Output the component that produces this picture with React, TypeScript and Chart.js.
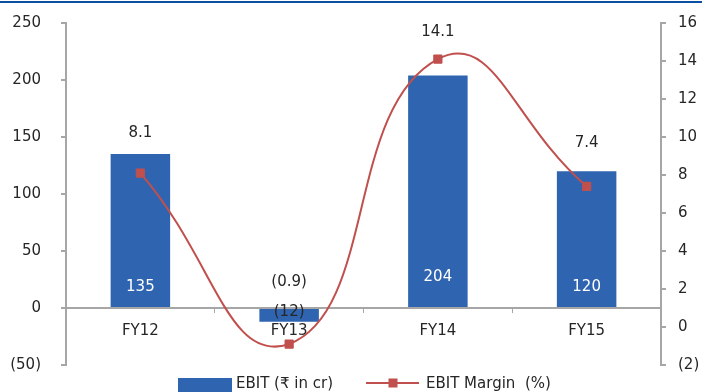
import React, { useEffect, useRef } from "react";
import { Chart, registerables } from "chart.js";

Chart.register(...registerables);

// Financial years on the category axis
const categories = ["FY12", "FY13", "FY14", "FY15"];
// EBIT in ₹ crore (bars, left axis)
const ebitValues = [135, -12, 204, 120];
// EBIT margin in percent (line, right axis)
const marginValues = [8.1, -0.9, 14.1, 7.4];
// Axis ranges
const leftRange = { min: -50, max: 250, step: 50 };
const rightRange = { min: -2, max: 16, step: 2 };

const barLabel = "EBIT (₹ in cr)";
const lineLabel = "EBIT Margin  (%)";

// label placement tweaks (pixels, relative to the zero line / marker)
const barLabelShift = [-21, 4, -31, -21];
const lineLabelShift = [-40, -62, -27, -43];

const FONT = "'DejaVu Sans', sans-serif";
const TEXT = "#262626";
const AXIS = "#a6a6a6";
const BLUE = "#2f64b0";
const RED = "#c0504d";

const fmt = (v: number) => (v < 0 ? `(${Math.abs(v)})` : `${v}`);

// value axes keep exact widths and no extra label padding, so the plot box is fixed
const fixAxis = (width: number) => (s: any) => {
  s.width = width;
  s.paddingTop = 0;
  s.paddingBottom = 0;
};

const decorPlugin = {
  id: "decor",
  beforeDraw(chart: any) {
    const { ctx, width } = chart;
    ctx.save();
    ctx.fillStyle = "#ffffff";
    ctx.fillRect(0, 0, width, chart.height);
    ctx.fillStyle = "#0b4ea2";
    ctx.fillRect(0, 1, width, 2);
    ctx.restore();
  },
  afterDatasetsDraw(chart: any) {
    const { ctx } = chart;
    const yScale = chart.scales.y;
    const zero = yScale.getPixelForValue(0);
    ctx.save();
    ctx.font = `15px ${FONT}`;
    ctx.textAlign = "center";
    ctx.textBaseline = "middle";
    const barMeta = chart.getDatasetMeta(0);
    barMeta.data.forEach((el: any, i: number) => {
      const v = ebitValues[i];
      ctx.fillStyle = v < 0 ? TEXT : "#ffffff";
      ctx.fillText(fmt(v), el.x, zero + barLabelShift[i]);
    });
    const lineMeta = chart.getDatasetMeta(1);
    lineMeta.data.forEach((el: any, i: number) => {
      ctx.fillStyle = TEXT;
      ctx.fillText(fmt(marginValues[i]), el.x, el.y + lineLabelShift[i]);
    });
    ctx.restore();
  },
  afterDraw(chart: any) {
    const { ctx } = chart;
    ctx.save();
    ctx.font = `15px ${FONT}`;
    ctx.textAlign = "left";
    ctx.textBaseline = "alphabetic";
    // bar legend entry
    ctx.fillStyle = BLUE;
    ctx.fillRect(178, 378, 54, 16);
    ctx.fillStyle = TEXT;
    ctx.fillText(barLabel, 236, 388);
    // line legend entry
    ctx.strokeStyle = RED;
    ctx.lineWidth = 2;
    ctx.beginPath();
    ctx.moveTo(366, 383);
    ctx.lineTo(419, 383);
    ctx.stroke();
    ctx.fillStyle = RED;
    ctx.fillRect(388.5, 378.5, 9, 9);
    ctx.fillStyle = TEXT;
    ctx.fillText(lineLabel, 426, 388);
    ctx.restore();
  },
};

export default function App() {
  const canvasRef = useRef<HTMLCanvasElement | null>(null);

  useEffect(() => {
    if (!canvasRef.current) return;
    const tickFont = { family: FONT, size: 15 };
    const chart = new Chart(canvasRef.current, {
      type: "bar",
      data: {
        labels: categories,
        datasets: [
          {
            type: "bar",
            label: barLabel,
            data: ebitValues,
            yAxisID: "y",
            backgroundColor: BLUE,
            barPercentage: 0.4,
            categoryPercentage: 1,
            order: 1,
          },
          {
            type: "line",
            label: lineLabel,
            data: marginValues,
            yAxisID: "y1",
            borderColor: RED,
            borderWidth: 2,
            backgroundColor: RED,
            pointStyle: "rect",
            pointRadius: 5.8,
            pointBorderWidth: 1,
            pointBackgroundColor: RED,
            pointBorderColor: RED,
            tension: 0.5,
            fill: false,
            order: 0,
          },
        ],
      },
      options: {
        animation: false,
        responsive: false,
        maintainAspectRatio: false,
        layout: { padding: { top: 23, bottom: 27, left: 0, right: 0 } },
        plugins: {
          legend: { display: false },
          tooltip: { enabled: false },
        },
        scales: {
          x: {
            position: { y: 0 } as any,
            grid: { display: true, drawOnChartArea: false, drawTicks: true, tickLength: 4, color: AXIS, lineWidth: 1, offset: true },
            border: { display: true, color: AXIS, width: 2 },
            ticks: { color: TEXT, font: tickFont, padding: 10 },
          },
          y: {
            position: "left",
            min: leftRange.min,
            max: leftRange.max,
            ticks: {
              stepSize: leftRange.step,
              color: TEXT,
              font: tickFont,
              padding: 20,
              callback: (v: any) => fmt(Number(v)),
            },
            grid: { drawOnChartArea: false, tickLength: 5, color: AXIS, lineWidth: 2 },
            border: { color: AXIS, width: 2 },
            afterFit: fixAxis(66),
          },
          y1: {
            position: "right",
            min: rightRange.min,
            max: rightRange.max,
            ticks: {
              stepSize: rightRange.step,
              color: TEXT,
              font: tickFont,
              padding: 12,
              callback: (v: any) => fmt(Number(v)),
            },
            grid: { drawOnChartArea: false, tickLength: 5, color: AXIS, lineWidth: 2 },
            border: { color: AXIS, width: 2 },
            afterFit: fixAxis(41),
          },
        },
      },
      plugins: [decorPlugin],
    });
    return () => chart.destroy();
  }, []);

  return (
    <div style={{ position: "fixed", left: 0, top: 0, width: 702, height: 392, background: "#fff" }}>
      <canvas ref={canvasRef} width={702} height={392} style={{ display: "block" }} />
    </div>
  );
}
